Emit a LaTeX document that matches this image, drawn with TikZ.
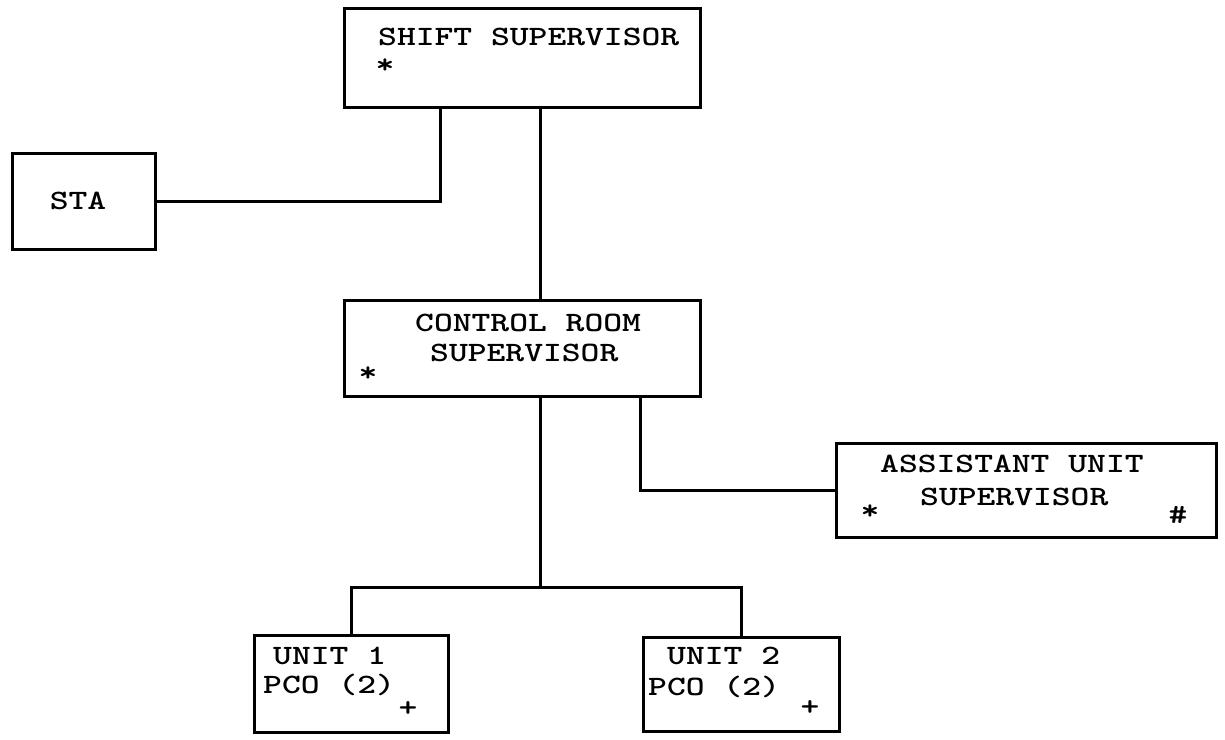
\documentclass[tikz,border=0pt]{standalone}
\usepackage{graphicx}
\newcommand{\tw}[1]{\scalebox{1.28}[1]{#1}}
\tikzset{
  orgbox/.style={draw, line width=3pt, inner sep=0pt},
  link/.style={line width=3pt},
  lbl/.style={font=\fontsize{28}{32}\selectfont\ttfamily\bfseries, inner sep=0pt}
}
\begin{document}
\begin{tikzpicture}[x=1pt,y=-1pt]
\useasboundingbox (0,0) rectangle (1225,739);
\node[orgbox, minimum width=356pt, minimum height=99pt] (shift) at (522,57.5) {};
\node[orgbox, minimum width=143pt, minimum height=96pt] (sta) at (83.5,201) {};
\node[orgbox, minimum width=356pt, minimum height=96pt] (control) at (522,348) {};
\node[orgbox, minimum width=380pt, minimum height=94pt] (aus) at (1026,490) {};
\node[orgbox, minimum width=194pt, minimum height=97pt] (unit1) at (351,683.5) {};
\node[orgbox, minimum width=196pt, minimum height=94pt] (unit2) at (741,684) {};
\node[lbl, anchor=west] (shifttext) at (378,37) {\tw{SHIFT SUPERVISOR}};
\node[lbl] (shiftstar) at (385,66) {\tw{*}};
\node[lbl] (statext) at (78,201) {\tw{STA}};
\node[lbl, anchor=west] (controltext) at (415,323) {\tw{CONTROL ROOM}};
\node[lbl, anchor=west] (controlsup) at (430,353) {\tw{SUPERVISOR}};
\node[lbl] (controlstar) at (368,374) {\tw{*}};
\node[lbl, anchor=west] (austext) at (880,464) {\tw{ASSISTANT UNIT}};
\node[lbl, anchor=west] (aussup) at (920,497) {\tw{SUPERVISOR}};
\node[lbl] (ausstar) at (870,512) {\tw{*}};
\node[lbl] (aushash) at (1178,515) {\tw{\#}};
\node[lbl, anchor=west] (unit1text) at (273,656) {\tw{UNIT 1}};
\node[lbl, anchor=base west] (unit1pco) at (263,693) {\tw{PCO (2)}};
\node[lbl] (unit1plus) at (408,709) {\tw{+}};
\node[lbl, anchor=west] (unit2text) at (667,656) {\tw{UNIT 2}};
\node[lbl, anchor=base west] (unit2pco) at (648,695) {\tw{PCO (2)}};
\node[lbl] (unit2plus) at (810,708) {\tw{+}};
\coordinate (trunk) at (540,587);
\coordinate (statap) at (440,0);
\coordinate (austap) at (640,0);
\draw[link] (shift.south -| trunk) -- (control.north -| trunk);
\draw[link] (shift.south -| statap) |- (sta.east);
\draw[link] (control.south -| trunk) -- (trunk);
\draw[link] (control.south -| austap) |- (aus.west);
\draw[link] (unit1.north) |- (trunk) -| (unit2.north);
\end{tikzpicture}
\end{document}
